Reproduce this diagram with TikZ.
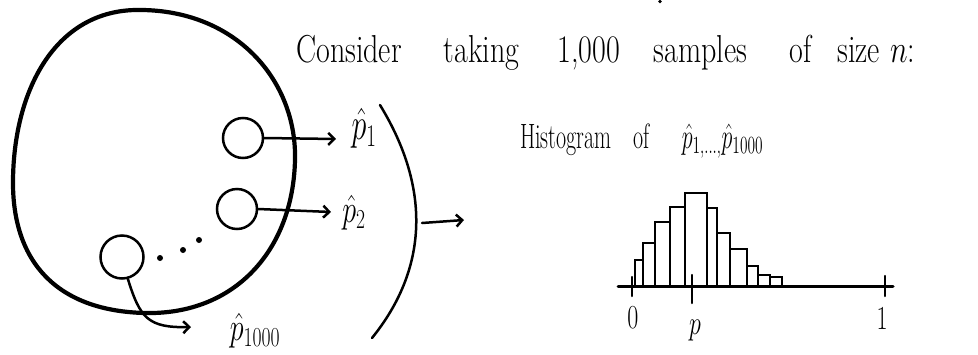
\documentclass[tikz,border=0pt]{standalone}
\usepackage{fix-cm}
\usepackage{graphicx}
\usetikzlibrary{arrows.meta}
\tikzset{
  pen/.style={line width=2.5pt, line cap=round, line join=round},
  blob/.style={line width=4.2pt, line join=round},
  sample/.style={draw, circle, line width=2.5pt, minimum size=40pt, inner sep=0pt},
  arr/.style={pen, -{Straight Barb[length=6pt,width=12pt,line width=2.5pt]}},
  bar/.style={line width=1.4pt},
  lbl/.style={inner sep=0pt},
}
\newcommand{\tall}[2]{\scalebox{1}[#1]{#2}}
\begin{document}
\begin{tikzpicture}[x=1pt,y=-1pt]
\useasboundingbox (0,0) rectangle (978,354);
% population
\draw[blob] (135,10) .. controls (235,8) and (297,80) .. (295,160)
  .. controls (293,250) and (235,315) .. (145,313)
  .. controls (60,311) and (12,265) .. (13,180)
  .. controls (14,90) and (55,12) .. cycle;
% samples
\node[sample] (c1) at (243,138) {};
\node[sample] (c2) at (237,209) {};
\node[sample, minimum size=43pt] (c3) at (122,257) {};
% dots
\fill (160,258) circle (3pt);
\fill (183,250) circle (3pt);
\fill (199,240) circle (3pt);
% labels p-hat
\node[lbl] (p1) at (364,128) {\tall{1.5}{\fontsize{30}{32}\selectfont$\hat{p}_1$}};
\node[lbl] (p2) at (354,213) {\tall{1.4}{\fontsize{28}{30}\selectfont$\hat{p}_2$}};
\node[lbl] (p3) at (255,331) {\tall{1.4}{\fontsize{28}{30}\selectfont$\hat{p}_{1000}$}};
\coordinate (e1) at (336,139);
\coordinate (e2) at (331,212);
\coordinate (e3) at (191,327);
\draw[arr] (c1.east) -- (e1);
\draw[arr] (c2.east) -- (e2);
\draw[arr] (c3.-75) .. controls (140,318) and (148,328) .. (e3);
% bracket
\coordinate (b1) at (380,105);
\coordinate (b2) at (372,338);
\coordinate (bm) at (422,223);
\coordinate (ba) at (464,220);
\draw[pen] (b1) .. controls (432,190) and (427,270) .. (b2);
\draw[arr] (bm) -- (ba);
% title
\node[lbl, anchor=base west] (title) at (296,62) {\tall{1.3}{\fontsize{30}{32}\selectfont
 Consider\hspace{42pt}taking\hspace{38pt}1,000\hspace{34pt}samples\hspace{42pt}of\hspace{26pt}size\hspace{10pt}$n$:}};
\fill (660,1.5) circle (1.8pt);
% histogram caption
\node[lbl, anchor=base west] (hcap) at (520,148) {\tall{1.6}{\fontsize{22}{24}\selectfont
 Histogram\hspace{22pt}of\hspace{32pt}$\hat{p}_{1,\dots,}\hat{p}_{1000}$}};
% histogram
\coordinate (ax0) at (618,286);
\coordinate (ax1) at (893,286);
\foreach \xa/\xb/\t in {635/643/260,643/655/243,655/670/222,670/685/207,685/707/193,
  707/717/208,717/730/233,730/747/249,747/758/266,758/770/275,770/782/277}
  \draw[bar] (\xa,286) rectangle (\xb,\t);
\draw[pen, line width=3pt] (ax0) -- (ax1);
\draw[pen] (632,277) -- (632,296);
\draw[pen] (885,276) -- (885,296);
\draw[pen] (692,275) -- (692,303);
\node[lbl] (l0) at (633,318) {\tall{1.4}{\fontsize{24}{26}\selectfont 0}};
\node[lbl] (lp) at (695,331) {\tall{1.4}{\fontsize{24}{26}\selectfont $p$}};
\node[lbl] (l1) at (882,318) {\tall{1.4}{\fontsize{24}{26}\selectfont 1}};
\end{tikzpicture}
\end{document}
